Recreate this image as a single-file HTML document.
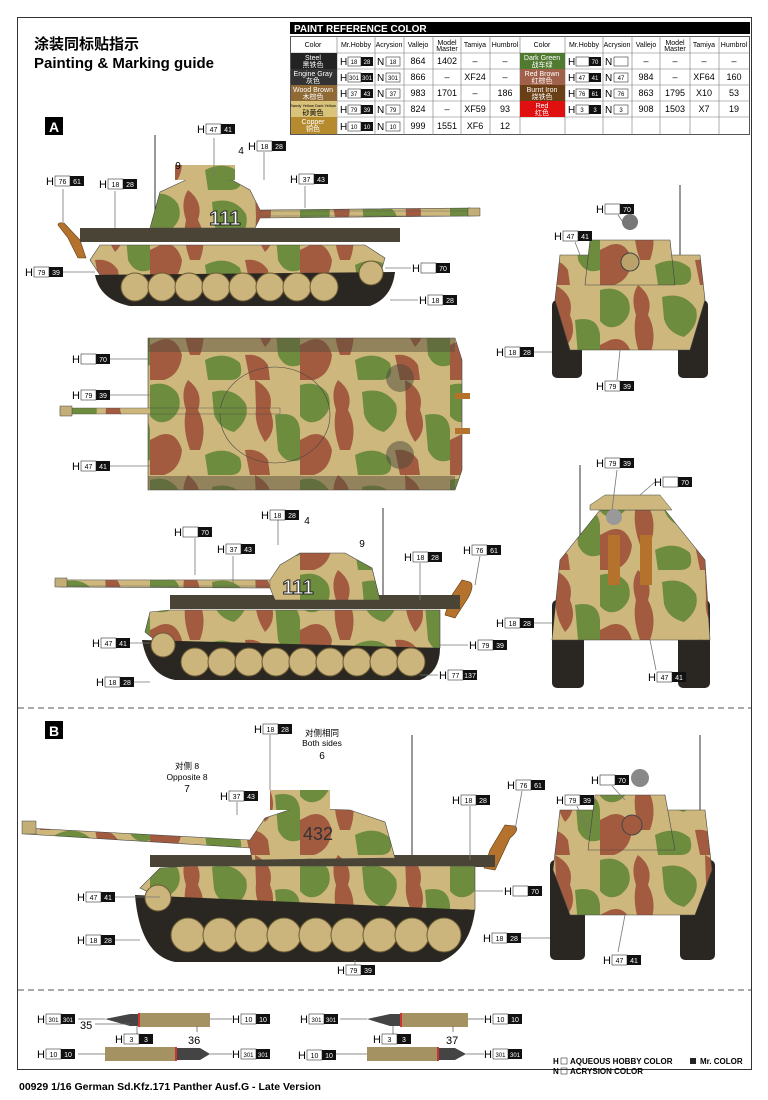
<!DOCTYPE html>
<html><head><meta charset="utf-8"><style>
body{margin:0;background:#fff;}
svg{display:block;font-family:"Liberation Sans",Arial,sans-serif;}
</style></head><body>
<svg width="768" height="1100" viewBox="0 0 768 1100" xmlns="http://www.w3.org/2000/svg">
<defs>
<pattern id="camo" width="150" height="95" patternUnits="userSpaceOnUse">
<rect width="150" height="95" fill="#cdb77d"/>
<path d="M0 5 Q18 0 28 14 Q34 30 20 40 Q8 46 0 36Z" fill="#6e8c3e"/>
<path d="M38 0 Q54 12 48 30 Q58 48 50 70 L40 70 Q32 48 36 30 Q30 12 38 0Z" fill="#a35b40"/>
<path d="M62 12 Q84 6 96 24 Q100 40 84 52 Q68 48 64 34Z" fill="#6e8c3e"/>
<path d="M10 55 Q26 50 32 70 Q30 90 14 95 L0 95 L0 60Z" fill="#a35b40"/>
<path d="M105 0 Q125 10 120 30 Q128 50 115 62 Q104 45 106 28Z" fill="#a35b40"/>
<path d="M125 35 Q148 30 150 50 L150 80 Q135 85 128 70Z" fill="#6e8c3e"/>
<path d="M55 75 Q75 65 90 78 Q95 95 80 95 L58 95Z" fill="#6e8c3e"/>
<path d="M95 70 Q110 68 118 80 L120 95 L100 95Z" fill="#a35b40"/>
</pattern>
</defs>

<rect x="17.5" y="17.5" width="734" height="1052" fill="none" stroke="#333" stroke-width="1"/>
<line x1="18" y1="708" x2="751" y2="708" stroke="#555" stroke-dasharray="6,4"/>
<line x1="18" y1="990" x2="751" y2="990" stroke="#555" stroke-dasharray="6,4"/>

<text x="34" y="49" font-size="15" font-family="Liberation Sans,'Noto Sans CJK SC',sans-serif" font-weight="bold">涂装同标贴指示</text>
<text x="34" y="68" font-size="15" font-weight="bold">Painting &amp; Marking guide</text>

<rect x="290" y="22" width="460" height="12" fill="#000"/>
<text x="294" y="32" font-size="10" font-weight="bold" fill="#fff">PAINT  REFERENCE COLOR</text>
<g font-size="7" text-anchor="middle" font-family="Liberation Sans,'Noto Sans CJK SC',sans-serif">
<rect x="290.5" y="36.5" width="459" height="98" fill="none" stroke="#555"/>
<g stroke="#777" stroke-width="0.6">
<line x1="290" y1="53" x2="750" y2="53"/><line x1="290" y1="69" x2="750" y2="69"/><line x1="290" y1="85" x2="750" y2="85"/><line x1="290" y1="101" x2="750" y2="101"/><line x1="290" y1="117" x2="750" y2="117"/>
<line x1="337" y1="36" x2="337" y2="135"/><line x1="375" y1="36" x2="375" y2="135"/><line x1="404" y1="36" x2="404" y2="135"/><line x1="433" y1="36" x2="433" y2="135"/><line x1="461" y1="36" x2="461" y2="135"/><line x1="490" y1="36" x2="490" y2="135"/><line x1="520" y1="36" x2="520" y2="135"/><line x1="565" y1="36" x2="565" y2="135"/><line x1="603" y1="36" x2="603" y2="135"/><line x1="632" y1="36" x2="632" y2="135"/><line x1="660" y1="36" x2="660" y2="135"/><line x1="690" y1="36" x2="690" y2="135"/><line x1="719" y1="36" x2="719" y2="135"/>
</g>
<text x="313" y="47">Color</text><text x="356" y="47">Mr.Hobby</text><text x="389" y="47">Acrysion</text><text x="418" y="47">Vallejo</text><text x="447" y="45">Model</text><text x="447" y="51">Master</text><text x="475" y="47">Tamiya</text><text x="505" y="47">Humbrol</text>
<text x="542" y="47">Color</text><text x="584" y="47">Mr.Hobby</text><text x="617" y="47">Acrysion</text><text x="646" y="47">Vallejo</text><text x="675" y="45">Model</text><text x="675" y="51">Master</text><text x="704" y="47">Tamiya</text><text x="734" y="47">Humbrol</text>
<rect x="291" y="53" width="46" height="16" fill="#222"/><rect x="291" y="69" width="46" height="16" fill="#333"/><rect x="291" y="85" width="46" height="16" fill="#8f6a35"/><rect x="291" y="101" width="46" height="16" fill="#d9c27a"/><rect x="291" y="117" width="46" height="17" fill="#b58b2e"/>
<rect x="520" y="53" width="45" height="16" fill="#4f7a30"/><rect x="520" y="69" width="45" height="16" fill="#a0604a"/><rect x="520" y="85" width="45" height="16" fill="#6a3f15"/><rect x="520" y="101" width="45" height="16" fill="#e01010"/>
<g fill="#fff"><text x="313" y="60">Steel</text><text x="313" y="67">黑铁色</text><text x="313" y="76">Engine Gray</text><text x="313" y="83">灰色</text><text x="313" y="92">Wood Brown</text><text x="313" y="99">木棕色</text><text x="313" y="124">Copper</text><text x="313" y="131">铜色</text>
<text x="542" y="60">Dark Green</text><text x="542" y="67">战车绿</text><text x="542" y="76">Red Brown</text><text x="542" y="83">红棕色</text><text x="542" y="92">Burnt Iron</text><text x="542" y="99">烧铁色</text><text x="542" y="108">Red</text><text x="542" y="115">红色</text></g>
<text x="313" y="107" font-size="4">Sandy Yellow Dark Yellow</text><text x="313" y="115">砂黄色</text>
<g font-size="9">
<text x="418" y="64">864</text><text x="447" y="64">1402</text><text x="475" y="64">–</text><text x="505" y="64">–</text>
<text x="418" y="80">866</text><text x="447" y="80">–</text><text x="475" y="80">XF24</text><text x="505" y="80">–</text>
<text x="418" y="96">983</text><text x="447" y="96">1701</text><text x="475" y="96">–</text><text x="505" y="96">186</text>
<text x="418" y="112">824</text><text x="447" y="112">–</text><text x="475" y="112">XF59</text><text x="505" y="112">93</text>
<text x="418" y="129">999</text><text x="447" y="129">1551</text><text x="475" y="129">XF6</text><text x="505" y="129">12</text>
<text x="646" y="64">–</text><text x="675" y="64">–</text><text x="704" y="64">–</text><text x="734" y="64">–</text>
<text x="646" y="80">984</text><text x="675" y="80">–</text><text x="704" y="80">XF64</text><text x="734" y="80">160</text>
<text x="646" y="96">863</text><text x="675" y="96">1795</text><text x="704" y="96">X10</text><text x="734" y="96">53</text>
<text x="646" y="112">908</text><text x="675" y="112">1503</text><text x="704" y="112">X7</text><text x="734" y="112">19</text>
</g></g>
<g font-size="10">
<text x="340" y="65">H</text><rect x="348" y="57" width="13" height="9" fill="#fff" stroke="#333" stroke-width=".6"/><rect x="361" y="57" width="12" height="9" fill="#111"/><text x="354" y="64" font-size="6" text-anchor="middle">18</text><text x="367" y="64" font-size="6" fill="#fff" text-anchor="middle">28</text>
<text x="340" y="81">H</text><rect x="348" y="73" width="13" height="9" fill="#fff" stroke="#333" stroke-width=".6"/><rect x="361" y="73" width="12" height="9" fill="#111"/><text x="354" y="80" font-size="6" text-anchor="middle">301</text><text x="367" y="80" font-size="6" fill="#fff" text-anchor="middle">301</text>
<text x="340" y="97">H</text><rect x="348" y="89" width="13" height="9" fill="#fff" stroke="#333" stroke-width=".6"/><rect x="361" y="89" width="12" height="9" fill="#111"/><text x="354" y="96" font-size="6" text-anchor="middle">37</text><text x="367" y="96" font-size="6" fill="#fff" text-anchor="middle">43</text>
<text x="340" y="113">H</text><rect x="348" y="105" width="13" height="9" fill="#fff" stroke="#333" stroke-width=".6"/><rect x="361" y="105" width="12" height="9" fill="#111"/><text x="354" y="112" font-size="6" text-anchor="middle">79</text><text x="367" y="112" font-size="6" fill="#fff" text-anchor="middle">39</text>
<text x="340" y="130">H</text><rect x="348" y="122" width="13" height="9" fill="#fff" stroke="#333" stroke-width=".6"/><rect x="361" y="122" width="12" height="9" fill="#111"/><text x="354" y="129" font-size="6" text-anchor="middle">10</text><text x="367" y="129" font-size="6" fill="#fff" text-anchor="middle">10</text>
<text x="377" y="65">N</text><rect x="386" y="57" width="14" height="9" fill="#fff" stroke="#333" stroke-width=".6"/><text x="393" y="64" font-size="6" text-anchor="middle">18</text>
<text x="377" y="81">N</text><rect x="386" y="73" width="14" height="9" fill="#fff" stroke="#333" stroke-width=".6"/><text x="393" y="80" font-size="6" text-anchor="middle">301</text>
<text x="377" y="97">N</text><rect x="386" y="89" width="14" height="9" fill="#fff" stroke="#333" stroke-width=".6"/><text x="393" y="96" font-size="6" text-anchor="middle">37</text>
<text x="377" y="113">N</text><rect x="386" y="105" width="14" height="9" fill="#fff" stroke="#333" stroke-width=".6"/><text x="393" y="112" font-size="6" text-anchor="middle">79</text>
<text x="377" y="130">N</text><rect x="386" y="122" width="14" height="9" fill="#fff" stroke="#333" stroke-width=".6"/><text x="393" y="129" font-size="6" text-anchor="middle">10</text>
<text x="568" y="65">H</text><rect x="576" y="57" width="13" height="9" fill="#fff" stroke="#333" stroke-width=".6"/><rect x="589" y="57" width="12" height="9" fill="#111"/><text x="595" y="64" font-size="6" fill="#fff" text-anchor="middle">70</text>
<text x="568" y="81">H</text><rect x="576" y="73" width="13" height="9" fill="#fff" stroke="#333" stroke-width=".6"/><rect x="589" y="73" width="12" height="9" fill="#111"/><text x="582" y="80" font-size="6" text-anchor="middle">47</text><text x="595" y="80" font-size="6" fill="#fff" text-anchor="middle">41</text>
<text x="568" y="97">H</text><rect x="576" y="89" width="13" height="9" fill="#fff" stroke="#333" stroke-width=".6"/><rect x="589" y="89" width="12" height="9" fill="#111"/><text x="582" y="96" font-size="6" text-anchor="middle">76</text><text x="595" y="96" font-size="6" fill="#fff" text-anchor="middle">61</text>
<text x="568" y="113">H</text><rect x="576" y="105" width="13" height="9" fill="#fff" stroke="#333" stroke-width=".6"/><rect x="589" y="105" width="12" height="9" fill="#111"/><text x="582" y="112" font-size="6" text-anchor="middle">3</text><text x="595" y="112" font-size="6" fill="#fff" text-anchor="middle">3</text>
<text x="605" y="65">N</text><rect x="614" y="57" width="14" height="9" fill="#fff" stroke="#333" stroke-width=".6"/>
<text x="605" y="81">N</text><rect x="614" y="73" width="14" height="9" fill="#fff" stroke="#333" stroke-width=".6"/><text x="621" y="80" font-size="6" text-anchor="middle">47</text>
<text x="605" y="97">N</text><rect x="614" y="89" width="14" height="9" fill="#fff" stroke="#333" stroke-width=".6"/><text x="621" y="96" font-size="6" text-anchor="middle">76</text>
<text x="605" y="113">N</text><rect x="614" y="105" width="14" height="9" fill="#fff" stroke="#333" stroke-width=".6"/><text x="621" y="112" font-size="6" text-anchor="middle">3</text>
</g>

<rect x="45" y="117" width="18" height="18" fill="#000"/><text x="54" y="132" font-size="14" font-weight="bold" fill="#fff" text-anchor="middle">A</text>
<rect x="45" y="721" width="18" height="18" fill="#000"/><text x="54" y="736" font-size="14" font-weight="bold" fill="#fff" text-anchor="middle">B</text>

<!-- Tank A side -->
<g>
<line x1="155" y1="135" x2="155" y2="232" stroke="#333"/>
<path d="M58 225 Q58 222 64 223 L80 240 L86 258 L78 258 L68 238Z" fill="#b5722c" stroke="#5a3a15" stroke-width=".6"/>
<rect x="80" y="228" width="320" height="14" fill="#4a4436"/>
<path d="M150 228 L160 192 L190 178 L232 180 L250 190 L260 210 L470 208 L470 216 L260 218 L255 228Z" fill="url(#camo)" stroke="#444" stroke-width=".6"/>
<rect x="175" y="165" width="60" height="15" fill="url(#camo)"/>
<text x="225" y="225" font-size="20" font-weight="bold" fill="#fff" stroke="#222" stroke-width="1" text-anchor="middle">111</text>
<rect x="260" y="211" width="215" height="5" fill="url(#camo)" stroke="#555" stroke-width=".4"/>
<rect x="468" y="208" width="12" height="8" fill="#c4ae78" stroke="#444" stroke-width=".5"/>
<path d="M100 245 L365 245 L385 258 L380 275 L100 275 L90 260Z" fill="url(#camo)" stroke="#444" stroke-width=".6"/>
<path d="M95 275 Q100 300 130 306 L370 306 Q392 298 395 272Z" fill="#2a2722"/>
<g fill="#cbb57c" stroke="#6b5a34" stroke-width="1">
<circle cx="135" cy="287" r="14"/><circle cx="162" cy="287" r="14"/><circle cx="189" cy="287" r="14"/><circle cx="216" cy="287" r="14"/><circle cx="243" cy="287" r="14"/><circle cx="270" cy="287" r="14"/><circle cx="297" cy="287" r="14"/><circle cx="324" cy="287" r="14"/><circle cx="371" cy="273" r="12"/>
</g>
</g>

<!-- Top view -->
<g>
<path d="M148 338 L455 338 L462 360 L462 470 L455 490 L148 490 L148 338Z" fill="url(#camo)" stroke="#444" stroke-width=".6"/>
<rect x="148" y="338" width="307" height="14" fill="#58503e" opacity=".5"/>
<rect x="148" y="476" width="307" height="14" fill="#58503e" opacity=".5"/>
<ellipse cx="275" cy="415" rx="55" ry="48" fill="url(#camo)" stroke="#444" stroke-width=".6"/>
<rect x="60" y="408" width="220" height="6" fill="url(#camo)" stroke="#444" stroke-width=".4"/>
<rect x="60" y="406" width="12" height="10" fill="#c4ae78" stroke="#444" stroke-width=".5"/>
<circle cx="400" cy="378" r="14" fill="#4a4a3a" opacity=".5"/><circle cx="400" cy="455" r="14" fill="#4a4a3a" opacity=".5"/>
<rect x="455" y="393" width="15" height="6" fill="#b5722c"/><rect x="455" y="428" width="15" height="6" fill="#b5722c"/>
</g>

<!-- Tank A left side -->
<g>
<line x1="383" y1="508" x2="383" y2="605" stroke="#333"/>
<path d="M468 598 Q475 585 470 582 L462 580 L450 598 L445 615 L455 618Z" fill="#b5722c" stroke="#5a3a15" stroke-width=".6"/>
<rect x="170" y="595" width="290" height="14" fill="#4a4436"/>
<path d="M380 600 L372 568 L345 553 L300 553 L280 565 L270 580 L60 580 L60 587 L270 588 L275 600Z" fill="url(#camo)" stroke="#444" stroke-width=".6"/>
<rect x="55" y="580" width="215" height="6" fill="url(#camo)" stroke="#555" stroke-width=".4"/>
<rect x="55" y="578" width="12" height="9" fill="#c4ae78" stroke="#444" stroke-width=".5"/>
<text x="298" y="594" font-size="20" font-weight="bold" fill="#fff" stroke="#222" stroke-width="1" text-anchor="middle">111</text>
<path d="M150 612 L170 610 L440 610 L440 648 L165 648 L145 632Z" fill="url(#camo)" stroke="#444" stroke-width=".6"/>
<path d="M142 640 Q148 675 175 680 L420 680 Q440 672 440 648Z" fill="#2a2722"/>
<g fill="#cbb57c" stroke="#6b5a34" stroke-width="1">
<circle cx="163" cy="645" r="12"/><circle cx="195" cy="662" r="14"/><circle cx="222" cy="662" r="14"/><circle cx="249" cy="662" r="14"/><circle cx="276" cy="662" r="14"/><circle cx="303" cy="662" r="14"/><circle cx="330" cy="662" r="14"/><circle cx="357" cy="662" r="14"/><circle cx="384" cy="662" r="14"/><circle cx="411" cy="662" r="14"/>
</g>
</g>

<!-- Front A -->
<g>
<line x1="680" y1="185" x2="680" y2="290" stroke="#333"/>
<rect x="552" y="300" width="30" height="78" rx="5" fill="#2a2722"/><rect x="678" y="300" width="30" height="78" rx="5" fill="#2a2722"/>
<path d="M560 255 L700 255 L705 300 L690 350 L570 350 L555 300Z" fill="url(#camo)" stroke="#444" stroke-width=".6"/>
<path d="M590 240 L670 240 L675 285 L585 285Z" fill="url(#camo)" stroke="#444" stroke-width=".6"/>
<circle cx="630" cy="262" r="9" fill="#bba26b" stroke="#444"/>
<circle cx="630" cy="222" r="8" fill="#777"/>
</g>

<!-- Rear A -->
<g>
<line x1="580" y1="465" x2="580" y2="590" stroke="#333"/>
<rect x="552" y="600" width="32" height="88" rx="5" fill="#2a2722"/><rect x="678" y="600" width="32" height="88" rx="5" fill="#2a2722"/>
<path d="M560 560 L600 510 L665 510 L705 560 L710 640 L552 640Z" fill="url(#camo)" stroke="#444" stroke-width=".6"/>
<path d="M590 505 L605 495 L660 495 L672 510 L590 510Z" fill="#cdb77d" stroke="#444" stroke-width=".5"/>
<rect x="608" y="535" width="12" height="50" fill="#b5722c"/><rect x="640" y="535" width="12" height="50" fill="#b5722c"/>
<circle cx="614" cy="517" r="8" fill="#999"/>
</g>

<!-- Tank B side -->
<g>
<line x1="412" y1="735" x2="412" y2="862" stroke="#333"/>
<path d="M510 838 Q520 830 515 826 L505 825 L490 850 L484 868 L495 870Z" fill="#b5722c" stroke="#5a3a15" stroke-width=".6"/>
<rect x="150" y="855" width="345" height="12" fill="#4a4436"/>
<path d="M395 858 L385 822 L350 810 L295 808 L265 818 L250 840 L25 828 L25 834 L250 848 L252 860Z" fill="url(#camo)" stroke="#444" stroke-width=".6"/>
<rect x="22" y="821" width="14" height="13" fill="#c4ae78" stroke="#444" stroke-width=".5"/>
<rect x="270" y="790" width="60" height="20" fill="url(#camo)"/>
<text x="318" y="840" font-size="18" fill="#333" text-anchor="middle">432</text>
<path d="M160 868 L190 866 L475 866 L475 910 L185 910 L140 888Z" fill="url(#camo)" stroke="#444" stroke-width=".6"/>
<path d="M135 895 Q140 955 175 962 L440 962 Q470 950 475 910Z" fill="#2a2722"/>
<g fill="#cbb57c" stroke="#6b5a34" stroke-width="1">
<circle cx="158" cy="898" r="13"/><circle cx="188" cy="935" r="17"/><circle cx="220" cy="935" r="17"/><circle cx="252" cy="935" r="17"/><circle cx="284" cy="935" r="17"/><circle cx="316" cy="935" r="17"/><circle cx="348" cy="935" r="17"/><circle cx="380" cy="935" r="17"/><circle cx="412" cy="935" r="17"/><circle cx="444" cy="935" r="17"/>
</g>
</g>

<!-- Front B -->
<g>
<line x1="700" y1="735" x2="700" y2="850" stroke="#333"/>
<rect x="550" y="860" width="35" height="100" rx="5" fill="#2a2722"/><rect x="680" y="860" width="35" height="100" rx="5" fill="#2a2722"/>
<path d="M560 810 L705 810 L712 870 L695 915 L570 915 L553 870Z" fill="url(#camo)" stroke="#444" stroke-width=".6"/>
<path d="M595 795 L665 795 L675 850 L588 850Z" fill="url(#camo)" stroke="#444" stroke-width=".6"/>
<circle cx="632" cy="825" r="10" fill="#a35b40" stroke="#444"/>
<circle cx="640" cy="778" r="9" fill="#888"/>
</g>

<!-- ammo -->
<g>
<rect x="140" y="1013" width="70" height="14" fill="#a59262"/><rect x="138" y="1013" width="2" height="14" fill="#c33"/>
<path d="M105 1019 L130 1014 L138 1014 L138 1026 L130 1026Z" fill="#444"/>
<rect x="105" y="1047" width="70" height="14" fill="#a59262"/><rect x="175" y="1047" width="2" height="14" fill="#c33"/><path d="M177 1048 L200 1048 L210 1054 L200 1060 L177 1060Z" fill="#444"/>
<path d="M367 1019 L390 1014 L400 1014 L400 1026 L390 1026Z" fill="#444"/><rect x="400" y="1013" width="2" height="14" fill="#c33"/><rect x="402" y="1013" width="66" height="14" fill="#a59262"/>
<rect x="367" y="1047" width="70" height="14" fill="#a59262"/><rect x="437" y="1047" width="2" height="14" fill="#c33"/><path d="M439 1048 L455 1048 L466 1054 L455 1060 L439 1060Z" fill="#444"/>
<g stroke="#666" stroke-width=".8">
<line x1="78" y1="1019" x2="105" y2="1019"/><line x1="210" y1="1019" x2="232" y2="1019"/><line x1="78" y1="1054" x2="105" y2="1054"/><line x1="210" y1="1054" x2="232" y2="1054"/>
<line x1="340" y1="1019" x2="367" y2="1019"/><line x1="468" y1="1019" x2="484" y2="1019"/><line x1="336" y1="1054" x2="367" y2="1054"/><line x1="466" y1="1054" x2="484" y2="1054"/>
<line x1="137" y1="1026" x2="137" y2="1036"/><line x1="197" y1="1026" x2="197" y2="1032"/><line x1="95" y1="1024" x2="130" y2="1024"/>
<line x1="393" y1="1026" x2="393" y2="1036"/><line x1="453" y1="1026" x2="453" y2="1032"/>
</g>
<text x="80" y="1029" font-size="11">35</text><text x="188" y="1044" font-size="11">36</text><text x="446" y="1044" font-size="11">37</text>
</g>

<g font-size="8" font-weight="bold">
<text x="553" y="1064">H</text><rect x="561" y="1058" width="6" height="6" fill="none" stroke="#333" stroke-width=".6"/><text x="570" y="1064">AQUEOUS HOBBY COLOR</text>
<rect x="690" y="1058" width="6" height="6" fill="#222"/><text x="700" y="1064">Mr. COLOR</text>
<text x="553" y="1074">N</text><rect x="561" y="1068" width="6" height="6" fill="none" stroke="#333" stroke-width=".6"/><text x="570" y="1074">ACRYSION COLOR</text>
</g>
<text x="19" y="1090" font-size="10.5" font-weight="bold">00929  1/16  German Sd.Kfz.171 Panther Ausf.G - Late Version</text>

<g font-size="10" text-anchor="middle" font-family="Liberation Sans,'Noto Sans CJK SC',sans-serif">
<text x="241" y="154">4</text><text x="178" y="169">9</text>
<text x="307" y="524">4</text><text x="362" y="547">9</text>
<text x="322" y="736" font-size="8.5">对侧相同</text><text x="322" y="746" font-size="8.5">Both sides</text><text x="322" y="759">6</text>
<text x="187" y="769" font-size="8.5">对侧 8</text><text x="187" y="780" font-size="8.5">Opposite 8</text><text x="187" y="792">7</text>
</g>

<g stroke="#777" stroke-width=".8" fill="none">
<line x1="214" y1="138" x2="214" y2="175"/><line x1="264" y1="152" x2="264" y2="180"/><line x1="305" y1="186" x2="305" y2="208"/><line x1="63" y1="189" x2="63" y2="222"/><line x1="115" y1="191" x2="115" y2="228"/>
<line x1="46" y1="272" x2="95" y2="272"/><line x1="385" y1="268" x2="411" y2="268"/><line x1="390" y1="300" x2="418" y2="300"/>
<line x1="93" y1="359" x2="148" y2="359"/><line x1="93" y1="395" x2="150" y2="395"/><line x1="93" y1="466" x2="150" y2="466"/>
<line x1="278" y1="520" x2="278" y2="545"/><line x1="195" y1="538" x2="195" y2="575"/><line x1="233" y1="556" x2="233" y2="585"/><line x1="420" y1="563" x2="420" y2="600"/><line x1="480" y1="556" x2="475" y2="585"/>
<line x1="113" y1="643" x2="150" y2="643"/><line x1="440" y1="645" x2="468" y2="645"/><line x1="117" y1="682" x2="150" y2="682"/><line x1="420" y1="675" x2="438" y2="675"/>
<line x1="618" y1="215" x2="625" y2="225"/><line x1="575" y1="242" x2="580" y2="255"/><line x1="517" y1="352" x2="552" y2="352"/><line x1="617" y1="380" x2="620" y2="350"/>
<line x1="617" y1="470" x2="612" y2="510"/><line x1="655" y1="482" x2="640" y2="495"/><line x1="517" y1="623" x2="552" y2="623"/><line x1="656" y1="670" x2="650" y2="640"/>
<line x1="270" y1="735" x2="270" y2="790"/><line x1="237" y1="802" x2="237" y2="815"/><line x1="470" y1="806" x2="470" y2="860"/><line x1="522" y1="791" x2="515" y2="830"/>
<line x1="98" y1="897" x2="160" y2="897"/><line x1="475" y1="891" x2="503" y2="891"/><line x1="98" y1="940" x2="140" y2="940"/><line x1="355" y1="965" x2="355" y2="960"/>
<line x1="577" y1="806" x2="590" y2="835"/><line x1="612" y1="786" x2="625" y2="800"/><line x1="504" y1="938" x2="550" y2="938"/><line x1="618" y1="952" x2="625" y2="915"/>
</g>
<g font-size="11">
<g transform="translate(197,133)"><text>H</text><rect x="9" y="-9" width="15" height="10" fill="#fff" stroke="#333" stroke-width=".6"/><rect x="24" y="-9" width="14" height="10" fill="#111"/><text x="16.5" y="-1" font-size="7" text-anchor="middle">47</text><text x="31" y="-1" font-size="7" fill="#fff" text-anchor="middle">41</text></g>
<g transform="translate(248,150)"><text>H</text><rect x="9" y="-9" width="15" height="10" fill="#fff" stroke="#333" stroke-width=".6"/><rect x="24" y="-9" width="14" height="10" fill="#111"/><text x="16.5" y="-1" font-size="7" text-anchor="middle">18</text><text x="31" y="-1" font-size="7" fill="#fff" text-anchor="middle">28</text></g>
<g transform="translate(290,183)"><text>H</text><rect x="9" y="-9" width="15" height="10" fill="#fff" stroke="#333" stroke-width=".6"/><rect x="24" y="-9" width="14" height="10" fill="#111"/><text x="16.5" y="-1" font-size="7" text-anchor="middle">37</text><text x="31" y="-1" font-size="7" fill="#fff" text-anchor="middle">43</text></g>
<g transform="translate(46,185)"><text>H</text><rect x="9" y="-9" width="15" height="10" fill="#fff" stroke="#333" stroke-width=".6"/><rect x="24" y="-9" width="14" height="10" fill="#111"/><text x="16.5" y="-1" font-size="7" text-anchor="middle">76</text><text x="31" y="-1" font-size="7" fill="#fff" text-anchor="middle">61</text></g>
<g transform="translate(99,188)"><text>H</text><rect x="9" y="-9" width="15" height="10" fill="#fff" stroke="#333" stroke-width=".6"/><rect x="24" y="-9" width="14" height="10" fill="#111"/><text x="16.5" y="-1" font-size="7" text-anchor="middle">18</text><text x="31" y="-1" font-size="7" fill="#fff" text-anchor="middle">28</text></g>
<g transform="translate(25,276)"><text>H</text><rect x="9" y="-9" width="15" height="10" fill="#fff" stroke="#333" stroke-width=".6"/><rect x="24" y="-9" width="14" height="10" fill="#111"/><text x="16.5" y="-1" font-size="7" text-anchor="middle">79</text><text x="31" y="-1" font-size="7" fill="#fff" text-anchor="middle">39</text></g>
<g transform="translate(412,272)"><text>H</text><rect x="9" y="-9" width="15" height="10" fill="#fff" stroke="#333" stroke-width=".6"/><rect x="24" y="-9" width="14" height="10" fill="#111"/><text x="31" y="-1" font-size="7" fill="#fff" text-anchor="middle">70</text></g>
<g transform="translate(419,304)"><text>H</text><rect x="9" y="-9" width="15" height="10" fill="#fff" stroke="#333" stroke-width=".6"/><rect x="24" y="-9" width="14" height="10" fill="#111"/><text x="16.5" y="-1" font-size="7" text-anchor="middle">18</text><text x="31" y="-1" font-size="7" fill="#fff" text-anchor="middle">28</text></g>
<g transform="translate(72,363)"><text>H</text><rect x="9" y="-9" width="15" height="10" fill="#fff" stroke="#333" stroke-width=".6"/><rect x="24" y="-9" width="14" height="10" fill="#111"/><text x="31" y="-1" font-size="7" fill="#fff" text-anchor="middle">70</text></g>
<g transform="translate(72,399)"><text>H</text><rect x="9" y="-9" width="15" height="10" fill="#fff" stroke="#333" stroke-width=".6"/><rect x="24" y="-9" width="14" height="10" fill="#111"/><text x="16.5" y="-1" font-size="7" text-anchor="middle">79</text><text x="31" y="-1" font-size="7" fill="#fff" text-anchor="middle">39</text></g>
<g transform="translate(72,470)"><text>H</text><rect x="9" y="-9" width="15" height="10" fill="#fff" stroke="#333" stroke-width=".6"/><rect x="24" y="-9" width="14" height="10" fill="#111"/><text x="16.5" y="-1" font-size="7" text-anchor="middle">47</text><text x="31" y="-1" font-size="7" fill="#fff" text-anchor="middle">41</text></g>
<g transform="translate(261,519)"><text>H</text><rect x="9" y="-9" width="15" height="10" fill="#fff" stroke="#333" stroke-width=".6"/><rect x="24" y="-9" width="14" height="10" fill="#111"/><text x="16.5" y="-1" font-size="7" text-anchor="middle">18</text><text x="31" y="-1" font-size="7" fill="#fff" text-anchor="middle">28</text></g>
<g transform="translate(174,536)"><text>H</text><rect x="9" y="-9" width="15" height="10" fill="#fff" stroke="#333" stroke-width=".6"/><rect x="24" y="-9" width="14" height="10" fill="#111"/><text x="31" y="-1" font-size="7" fill="#fff" text-anchor="middle">70</text></g>
<g transform="translate(217,553)"><text>H</text><rect x="9" y="-9" width="15" height="10" fill="#fff" stroke="#333" stroke-width=".6"/><rect x="24" y="-9" width="14" height="10" fill="#111"/><text x="16.5" y="-1" font-size="7" text-anchor="middle">37</text><text x="31" y="-1" font-size="7" fill="#fff" text-anchor="middle">43</text></g>
<g transform="translate(404,561)"><text>H</text><rect x="9" y="-9" width="15" height="10" fill="#fff" stroke="#333" stroke-width=".6"/><rect x="24" y="-9" width="14" height="10" fill="#111"/><text x="16.5" y="-1" font-size="7" text-anchor="middle">18</text><text x="31" y="-1" font-size="7" fill="#fff" text-anchor="middle">28</text></g>
<g transform="translate(463,554)"><text>H</text><rect x="9" y="-9" width="15" height="10" fill="#fff" stroke="#333" stroke-width=".6"/><rect x="24" y="-9" width="14" height="10" fill="#111"/><text x="16.5" y="-1" font-size="7" text-anchor="middle">76</text><text x="31" y="-1" font-size="7" fill="#fff" text-anchor="middle">61</text></g>
<g transform="translate(92,647)"><text>H</text><rect x="9" y="-9" width="15" height="10" fill="#fff" stroke="#333" stroke-width=".6"/><rect x="24" y="-9" width="14" height="10" fill="#111"/><text x="16.5" y="-1" font-size="7" text-anchor="middle">47</text><text x="31" y="-1" font-size="7" fill="#fff" text-anchor="middle">41</text></g>
<g transform="translate(469,649)"><text>H</text><rect x="9" y="-9" width="15" height="10" fill="#fff" stroke="#333" stroke-width=".6"/><rect x="24" y="-9" width="14" height="10" fill="#111"/><text x="16.5" y="-1" font-size="7" text-anchor="middle">79</text><text x="31" y="-1" font-size="7" fill="#fff" text-anchor="middle">39</text></g>
<g transform="translate(96,686)"><text>H</text><rect x="9" y="-9" width="15" height="10" fill="#fff" stroke="#333" stroke-width=".6"/><rect x="24" y="-9" width="14" height="10" fill="#111"/><text x="16.5" y="-1" font-size="7" text-anchor="middle">18</text><text x="31" y="-1" font-size="7" fill="#fff" text-anchor="middle">28</text></g>
<g transform="translate(439,679)"><text>H</text><rect x="9" y="-9" width="15" height="10" fill="#fff" stroke="#333" stroke-width=".6"/><rect x="24" y="-9" width="14" height="10" fill="#111"/><text x="16.5" y="-1" font-size="7" text-anchor="middle">77</text><text x="31" y="-1" font-size="7" fill="#fff" text-anchor="middle">137</text></g>
<g transform="translate(596,213)"><text>H</text><rect x="9" y="-9" width="15" height="10" fill="#fff" stroke="#333" stroke-width=".6"/><rect x="24" y="-9" width="14" height="10" fill="#111"/><text x="31" y="-1" font-size="7" fill="#fff" text-anchor="middle">70</text></g>
<g transform="translate(554,240)"><text>H</text><rect x="9" y="-9" width="15" height="10" fill="#fff" stroke="#333" stroke-width=".6"/><rect x="24" y="-9" width="14" height="10" fill="#111"/><text x="16.5" y="-1" font-size="7" text-anchor="middle">47</text><text x="31" y="-1" font-size="7" fill="#fff" text-anchor="middle">41</text></g>
<g transform="translate(496,356)"><text>H</text><rect x="9" y="-9" width="15" height="10" fill="#fff" stroke="#333" stroke-width=".6"/><rect x="24" y="-9" width="14" height="10" fill="#111"/><text x="16.5" y="-1" font-size="7" text-anchor="middle">18</text><text x="31" y="-1" font-size="7" fill="#fff" text-anchor="middle">28</text></g>
<g transform="translate(596,390)"><text>H</text><rect x="9" y="-9" width="15" height="10" fill="#fff" stroke="#333" stroke-width=".6"/><rect x="24" y="-9" width="14" height="10" fill="#111"/><text x="16.5" y="-1" font-size="7" text-anchor="middle">79</text><text x="31" y="-1" font-size="7" fill="#fff" text-anchor="middle">39</text></g>
<g transform="translate(596,467)"><text>H</text><rect x="9" y="-9" width="15" height="10" fill="#fff" stroke="#333" stroke-width=".6"/><rect x="24" y="-9" width="14" height="10" fill="#111"/><text x="16.5" y="-1" font-size="7" text-anchor="middle">79</text><text x="31" y="-1" font-size="7" fill="#fff" text-anchor="middle">39</text></g>
<g transform="translate(654,486)"><text>H</text><rect x="9" y="-9" width="15" height="10" fill="#fff" stroke="#333" stroke-width=".6"/><rect x="24" y="-9" width="14" height="10" fill="#111"/><text x="31" y="-1" font-size="7" fill="#fff" text-anchor="middle">70</text></g>
<g transform="translate(496,627)"><text>H</text><rect x="9" y="-9" width="15" height="10" fill="#fff" stroke="#333" stroke-width=".6"/><rect x="24" y="-9" width="14" height="10" fill="#111"/><text x="16.5" y="-1" font-size="7" text-anchor="middle">18</text><text x="31" y="-1" font-size="7" fill="#fff" text-anchor="middle">28</text></g>
<g transform="translate(648,681)"><text>H</text><rect x="9" y="-9" width="15" height="10" fill="#fff" stroke="#333" stroke-width=".6"/><rect x="24" y="-9" width="14" height="10" fill="#111"/><text x="16.5" y="-1" font-size="7" text-anchor="middle">47</text><text x="31" y="-1" font-size="7" fill="#fff" text-anchor="middle">41</text></g>
<g transform="translate(254,733)"><text>H</text><rect x="9" y="-9" width="15" height="10" fill="#fff" stroke="#333" stroke-width=".6"/><rect x="24" y="-9" width="14" height="10" fill="#111"/><text x="16.5" y="-1" font-size="7" text-anchor="middle">18</text><text x="31" y="-1" font-size="7" fill="#fff" text-anchor="middle">28</text></g>
<g transform="translate(220,800)"><text>H</text><rect x="9" y="-9" width="15" height="10" fill="#fff" stroke="#333" stroke-width=".6"/><rect x="24" y="-9" width="14" height="10" fill="#111"/><text x="16.5" y="-1" font-size="7" text-anchor="middle">37</text><text x="31" y="-1" font-size="7" fill="#fff" text-anchor="middle">43</text></g>
<g transform="translate(452,804)"><text>H</text><rect x="9" y="-9" width="15" height="10" fill="#fff" stroke="#333" stroke-width=".6"/><rect x="24" y="-9" width="14" height="10" fill="#111"/><text x="16.5" y="-1" font-size="7" text-anchor="middle">18</text><text x="31" y="-1" font-size="7" fill="#fff" text-anchor="middle">28</text></g>
<g transform="translate(507,789)"><text>H</text><rect x="9" y="-9" width="15" height="10" fill="#fff" stroke="#333" stroke-width=".6"/><rect x="24" y="-9" width="14" height="10" fill="#111"/><text x="16.5" y="-1" font-size="7" text-anchor="middle">76</text><text x="31" y="-1" font-size="7" fill="#fff" text-anchor="middle">61</text></g>
<g transform="translate(77,901)"><text>H</text><rect x="9" y="-9" width="15" height="10" fill="#fff" stroke="#333" stroke-width=".6"/><rect x="24" y="-9" width="14" height="10" fill="#111"/><text x="16.5" y="-1" font-size="7" text-anchor="middle">47</text><text x="31" y="-1" font-size="7" fill="#fff" text-anchor="middle">41</text></g>
<g transform="translate(504,895)"><text>H</text><rect x="9" y="-9" width="15" height="10" fill="#fff" stroke="#333" stroke-width=".6"/><rect x="24" y="-9" width="14" height="10" fill="#111"/><text x="31" y="-1" font-size="7" fill="#fff" text-anchor="middle">70</text></g>
<g transform="translate(77,944)"><text>H</text><rect x="9" y="-9" width="15" height="10" fill="#fff" stroke="#333" stroke-width=".6"/><rect x="24" y="-9" width="14" height="10" fill="#111"/><text x="16.5" y="-1" font-size="7" text-anchor="middle">18</text><text x="31" y="-1" font-size="7" fill="#fff" text-anchor="middle">28</text></g>
<g transform="translate(337,974)"><text>H</text><rect x="9" y="-9" width="15" height="10" fill="#fff" stroke="#333" stroke-width=".6"/><rect x="24" y="-9" width="14" height="10" fill="#111"/><text x="16.5" y="-1" font-size="7" text-anchor="middle">79</text><text x="31" y="-1" font-size="7" fill="#fff" text-anchor="middle">39</text></g>
<g transform="translate(556,804)"><text>H</text><rect x="9" y="-9" width="15" height="10" fill="#fff" stroke="#333" stroke-width=".6"/><rect x="24" y="-9" width="14" height="10" fill="#111"/><text x="16.5" y="-1" font-size="7" text-anchor="middle">79</text><text x="31" y="-1" font-size="7" fill="#fff" text-anchor="middle">39</text></g>
<g transform="translate(591,784)"><text>H</text><rect x="9" y="-9" width="15" height="10" fill="#fff" stroke="#333" stroke-width=".6"/><rect x="24" y="-9" width="14" height="10" fill="#111"/><text x="31" y="-1" font-size="7" fill="#fff" text-anchor="middle">70</text></g>
<g transform="translate(483,942)"><text>H</text><rect x="9" y="-9" width="15" height="10" fill="#fff" stroke="#333" stroke-width=".6"/><rect x="24" y="-9" width="14" height="10" fill="#111"/><text x="16.5" y="-1" font-size="7" text-anchor="middle">18</text><text x="31" y="-1" font-size="7" fill="#fff" text-anchor="middle">28</text></g>
<g transform="translate(603,964)"><text>H</text><rect x="9" y="-9" width="15" height="10" fill="#fff" stroke="#333" stroke-width=".6"/><rect x="24" y="-9" width="14" height="10" fill="#111"/><text x="16.5" y="-1" font-size="7" text-anchor="middle">47</text><text x="31" y="-1" font-size="7" fill="#fff" text-anchor="middle">41</text></g>
<g transform="translate(37,1023)"><text>H</text><rect x="9" y="-9" width="15" height="10" fill="#fff" stroke="#333" stroke-width=".6"/><rect x="24" y="-9" width="14" height="10" fill="#111"/><text x="16.5" y="-1" font-size="6" text-anchor="middle">301</text><text x="31" y="-1" font-size="6" fill="#fff" text-anchor="middle">301</text></g>
<g transform="translate(232,1023)"><text>H</text><rect x="9" y="-9" width="15" height="10" fill="#fff" stroke="#333" stroke-width=".6"/><rect x="24" y="-9" width="14" height="10" fill="#111"/><text x="16.5" y="-1" font-size="7" text-anchor="middle">10</text><text x="31" y="-1" font-size="7" fill="#fff" text-anchor="middle">10</text></g>
<g transform="translate(115,1043)"><text>H</text><rect x="9" y="-9" width="15" height="10" fill="#fff" stroke="#333" stroke-width=".6"/><rect x="24" y="-9" width="14" height="10" fill="#111"/><text x="16.5" y="-1" font-size="7" text-anchor="middle">3</text><text x="31" y="-1" font-size="7" fill="#fff" text-anchor="middle">3</text></g>
<g transform="translate(37,1058)"><text>H</text><rect x="9" y="-9" width="15" height="10" fill="#fff" stroke="#333" stroke-width=".6"/><rect x="24" y="-9" width="14" height="10" fill="#111"/><text x="16.5" y="-1" font-size="7" text-anchor="middle">10</text><text x="31" y="-1" font-size="7" fill="#fff" text-anchor="middle">10</text></g>
<g transform="translate(232,1058)"><text>H</text><rect x="9" y="-9" width="15" height="10" fill="#fff" stroke="#333" stroke-width=".6"/><rect x="24" y="-9" width="14" height="10" fill="#111"/><text x="16.5" y="-1" font-size="6" text-anchor="middle">301</text><text x="31" y="-1" font-size="6" fill="#fff" text-anchor="middle">301</text></g>
<g transform="translate(300,1023)"><text>H</text><rect x="9" y="-9" width="15" height="10" fill="#fff" stroke="#333" stroke-width=".6"/><rect x="24" y="-9" width="14" height="10" fill="#111"/><text x="16.5" y="-1" font-size="6" text-anchor="middle">301</text><text x="31" y="-1" font-size="6" fill="#fff" text-anchor="middle">301</text></g>
<g transform="translate(484,1023)"><text>H</text><rect x="9" y="-9" width="15" height="10" fill="#fff" stroke="#333" stroke-width=".6"/><rect x="24" y="-9" width="14" height="10" fill="#111"/><text x="16.5" y="-1" font-size="7" text-anchor="middle">10</text><text x="31" y="-1" font-size="7" fill="#fff" text-anchor="middle">10</text></g>
<g transform="translate(373,1043)"><text>H</text><rect x="9" y="-9" width="15" height="10" fill="#fff" stroke="#333" stroke-width=".6"/><rect x="24" y="-9" width="14" height="10" fill="#111"/><text x="16.5" y="-1" font-size="7" text-anchor="middle">3</text><text x="31" y="-1" font-size="7" fill="#fff" text-anchor="middle">3</text></g>
<g transform="translate(298,1059)"><text>H</text><rect x="9" y="-9" width="15" height="10" fill="#fff" stroke="#333" stroke-width=".6"/><rect x="24" y="-9" width="14" height="10" fill="#111"/><text x="16.5" y="-1" font-size="7" text-anchor="middle">10</text><text x="31" y="-1" font-size="7" fill="#fff" text-anchor="middle">10</text></g>
<g transform="translate(484,1058)"><text>H</text><rect x="9" y="-9" width="15" height="10" fill="#fff" stroke="#333" stroke-width=".6"/><rect x="24" y="-9" width="14" height="10" fill="#111"/><text x="16.5" y="-1" font-size="6" text-anchor="middle">301</text><text x="31" y="-1" font-size="6" fill="#fff" text-anchor="middle">301</text></g>
</g>
</svg>
</body></html>
